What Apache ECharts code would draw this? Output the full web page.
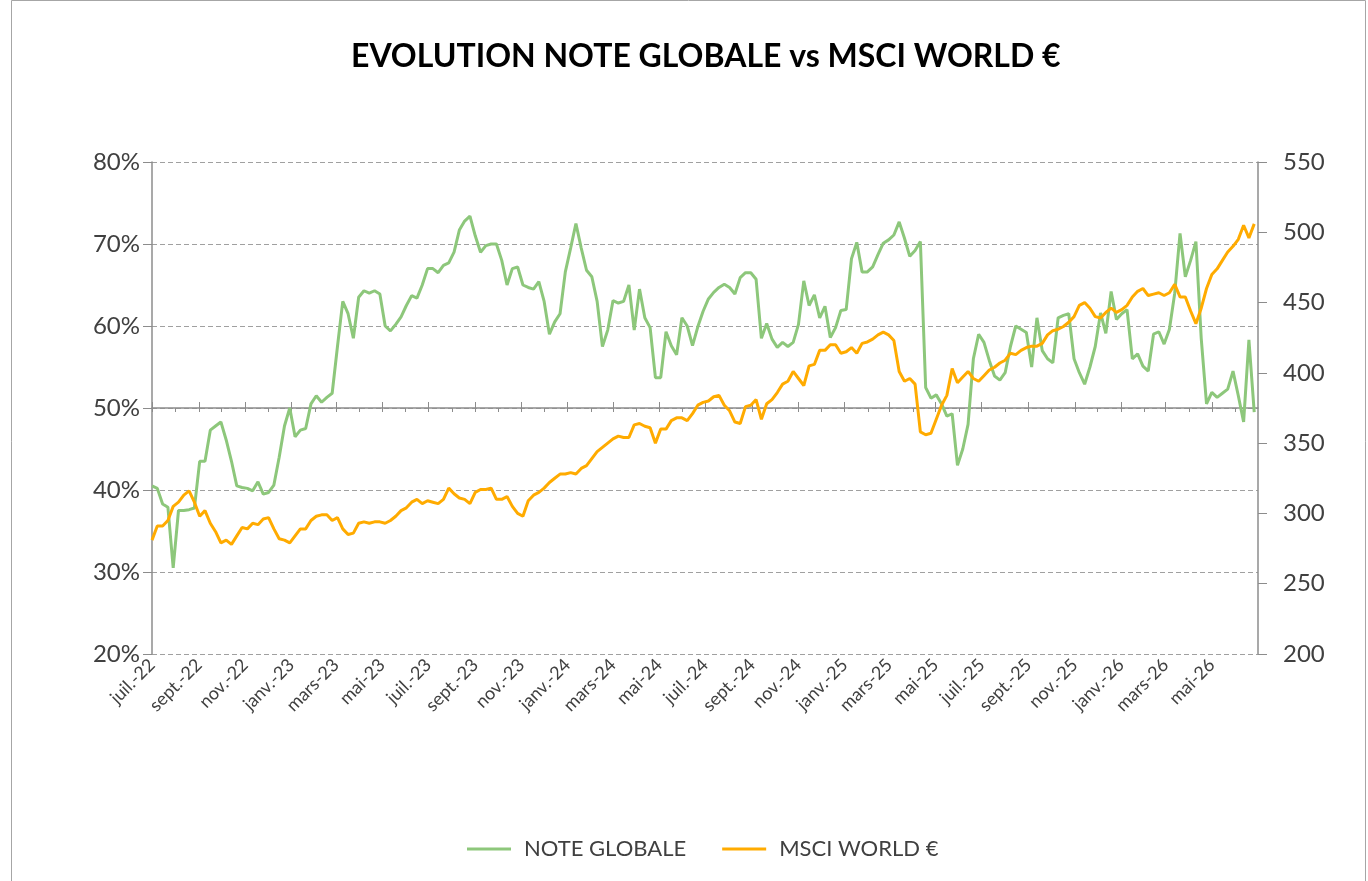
<!DOCTYPE html>
<html>
<head>
<meta charset="utf-8">
<script src="https://cdn.jsdelivr.net/npm/echarts@6/dist/echarts.min.js"></script>
<style>
  html, body { margin: 0; padding: 0; background: #fff; }
  #chart { width: 1368px; height: 881px; }
</style>
</head>
<body>
<div id="chart"></div>
<script>
// weekly readings, first one on 1 July 2022
const startDate = Date.UTC(2022, 6, 1)
const endDate = Date.UTC(2026, 6, 1)
const monthNames = ['janv.', 'févr.', 'mars', 'avr.', 'mai', 'juin', 'juil.', 'août', 'sept.', 'oct.', 'nov.', 'déc.']

// NOTE GLOBALE, in %
const noteGlobale = [
  40.5, 40.2, 38.3, 37.9, 30.5, 37.5, 37.5, 37.6, 37.8, 43.5,
  43.5, 47.3, 47.8, 48.3, 46.1, 43.5, 40.5, 40.3, 40.2, 39.9,
  41.0, 39.5, 39.7, 40.6, 44.0, 47.8, 50.0, 46.5, 47.3, 47.5,
  50.5, 51.5, 50.7, 51.3, 51.8, 57.5, 63.0, 61.5, 58.5, 63.5,
  64.3, 64.0, 64.3, 63.9, 60.0, 59.4, 60.2, 61.1, 62.5, 63.7,
  63.4, 65.0, 67.0, 67.0, 66.5, 67.4, 67.7, 69.0, 71.7, 72.8,
  73.4, 71.0, 69.0, 69.8, 70.0, 70.0, 68.0, 65.0, 67.0, 67.2,
  65.0, 64.7, 64.5, 65.4, 63.0, 59.0, 60.5, 61.5, 66.6, 69.5,
  72.5, 69.5, 66.8, 66.0, 63.0, 57.5, 59.5, 63.1, 62.8, 63.0,
  65.0, 59.5, 64.5, 61.0, 59.8, 53.7, 53.7, 59.3, 57.6, 56.5,
  61.0, 60.0, 57.6, 59.9, 61.8, 63.3, 64.1, 64.7, 65.1, 64.7,
  63.9, 65.9, 66.5, 66.5, 65.7, 58.5, 60.3, 58.4, 57.4, 58.0,
  57.5, 58.0, 60.2, 65.5, 62.5, 63.8, 61.0, 62.4, 58.6, 59.8,
  61.9, 62.0, 68.2, 70.2, 66.6, 66.6, 67.2, 68.7, 70.1, 70.5,
  71.1, 72.7, 70.7, 68.5, 69.2, 70.3, 52.5, 51.2, 51.6, 50.5,
  49.0, 49.3, 43.0, 45.0, 48.0, 56.0, 59.0, 58.0, 55.8, 53.9,
  53.4, 54.3, 57.5, 60.0, 59.6, 59.2, 55.0, 61.0, 57.0, 56.0,
  55.5, 61.0, 61.3, 61.5, 56.0, 54.3, 52.9, 55.0, 57.5, 61.6,
  59.1, 64.2, 60.8, 61.5, 62.0, 56.0, 56.6, 55.1, 54.5, 59.0,
  59.3, 57.8, 59.6, 64.0, 71.3, 66.0, 68.0, 70.3, 58.5, 50.5,
  51.9, 51.3, 51.8, 52.3, 54.5, 51.5, 48.3, 58.3, 49.5
]

// MSCI WORLD €
const msciWorld = [
  281, 291, 291, 295, 305, 308, 313, 316, 308, 298,
  302, 293, 287, 279, 281, 278, 284, 290, 289, 293,
  292, 296, 297, 289, 282, 281, 279, 284, 289, 289,
  295, 298, 299, 299, 295, 297, 289, 285, 286, 293,
  294, 293, 294, 294, 293, 295, 298, 302, 304, 308,
  310, 307, 309, 308, 307, 310, 318, 314, 311, 310,
  307, 315, 317, 317, 318, 310, 310, 312, 305, 300,
  298, 309, 313, 315, 318, 322, 325, 328, 328, 329,
  328, 332, 334, 339, 344, 347, 350, 353, 355, 354,
  354, 363, 364, 362, 361, 350, 360, 360, 366, 368,
  368, 366, 371, 377, 379, 380, 383, 384, 377, 373,
  365, 364, 376, 377, 381, 367, 378, 381, 386, 392,
  394, 401, 396, 391, 405, 406, 416, 416, 420, 420,
  414, 415, 418, 414, 421, 422, 424, 427, 429, 427,
  423, 401, 394, 396, 392, 358, 356, 357, 367, 377,
  384, 403, 393, 397, 401, 396, 394, 398, 402, 404,
  407, 409, 414, 413, 416, 418, 419, 419, 421, 427,
  430, 431, 433, 436, 440, 448, 450, 446, 440, 439,
  443, 446, 443, 445, 448, 454, 458, 460, 455, 456,
  457, 455, 457, 463, 454, 454, 444, 435, 446, 460,
  470, 474, 480, 486, 490, 495, 505, 496, 506
]

const DAY = 86400000
const weekDate = (i) => startDate + i * 7 * DAY

const monthStarts = []
for (let y = 2022, m = 6; Date.UTC(y, m, 1) < endDate; m++) {
  if (m > 11) { m = 0; y++ }
  monthStarts.push(Date.UTC(y, m, 1))
}
const labelMonths = monthStarts.filter((t, i) => i % 2 === 0)

const fmtMonth = (t) => {
  const d = new Date(t)
  return monthNames[d.getUTCMonth()] + '-' + String(d.getUTCFullYear()).slice(2)
}

const font = 'Lato, "Noto Sans", sans-serif'
const axisGrey = '#8c8c8c'
const plotTop = 162, plotBottom = 227, plotHeight = 881 - plotTop - plotBottom

var myChart = echarts.init(document.getElementById('chart'))
myChart.setOption({
  backgroundColor: '#fff',
  animation: false,
  title: {
    text: 'EVOLUTION NOTE GLOBALE vs MSCI WORLD €',
    left: 346,
    top: 36,
    textStyle: { fontFamily: font, fontSize: 32, fontWeight: 'bold', color: '#000' }
  },
  graphic: [{
    type: 'rect',
    shape: { x: 11.5, y: 0.5, width: 1354, height: 900 },
    style: { fill: 'none', stroke: '#a6a6a6', lineWidth: 1 },
    silent: true
  }],
  legend: {
    top: 833,
    left: 462,
    icon: 'rect',
    itemWidth: 44,
    itemHeight: 3,
    itemGap: 36,
    textStyle: { fontFamily: font, fontSize: 22, color: '#404040', padding: [0, 0, 0, 8] },
    data: ['NOTE GLOBALE', 'MSCI WORLD €']
  },
  grid: { left: 152, right: 110, top: plotTop, bottom: plotBottom, containLabel: false },
  xAxis: [
    {
      type: 'value',
      min: startDate,
      max: endDate,
      axisLine: { show: false },
      axisTick: { show: false },
      splitLine: { show: false },
      axisLabel: {
        customValues: labelMonths,
        formatter: fmtMonth,
        rotate: 45,
        margin: 8,
        fontFamily: font,
        fontSize: 18,
        color: '#404040'
      }
    },
    {
      type: 'value',
      min: startDate,
      max: endDate,
      offset: -plotHeight / 2,
      axisLine: { show: true, lineStyle: { color: axisGrey, width: 1.5 } },
      axisTick: { show: true, inside: true, length: 4, customValues: monthStarts, lineStyle: { color: axisGrey } },
      axisLabel: { show: false },
      splitLine: { show: false }
    },
    {
      type: 'value',
      min: startDate,
      max: endDate,
      offset: -plotHeight / 2,
      axisLine: { show: false },
      axisTick: { show: true, inside: false, length: 6, customValues: labelMonths, lineStyle: { color: axisGrey } },
      axisLabel: { show: false },
      splitLine: { show: false }
    }
  ],
  yAxis: [
    {
      type: 'value',
      min: 20,
      max: 80,
      interval: 10,
      axisLine: { show: true, lineStyle: { color: axisGrey, width: 1.5 } },
      axisTick: { show: true, length: 9, lineStyle: { color: axisGrey } },
      axisLabel: { formatter: '{value}%', fontFamily: font, fontSize: 24, color: '#404040', margin: 12 },
      splitLine: { show: true, lineStyle: { color: '#a0a0a0', type: [5, 3], width: 1 } }
    },
    {
      type: 'value',
      min: 200,
      max: 550,
      interval: 50,
      position: 'right',
      axisLine: { show: true, lineStyle: { color: axisGrey, width: 1.5 } },
      axisTick: { show: true, length: 9, lineStyle: { color: axisGrey } },
      axisLabel: { fontFamily: font, fontSize: 24, color: '#404040', margin: 25 },
      splitLine: { show: false }
    }
  ],
  series: [
    {
      name: 'NOTE GLOBALE',
      type: 'line',
      yAxisIndex: 0,
      symbol: 'none',
      lineStyle: { color: '#8dc77b', width: 3 },
      itemStyle: { color: '#8dc77b' },
      data: noteGlobale.map((v, i) => [weekDate(i), v])
    },
    {
      name: 'MSCI WORLD €',
      type: 'line',
      yAxisIndex: 1,
      symbol: 'none',
      lineStyle: { color: '#ffab00', width: 3 },
      itemStyle: { color: '#ffab00' },
      data: msciWorld.map((v, i) => [weekDate(i), v])
    }
  ]
})
</script>
</body>
</html>
